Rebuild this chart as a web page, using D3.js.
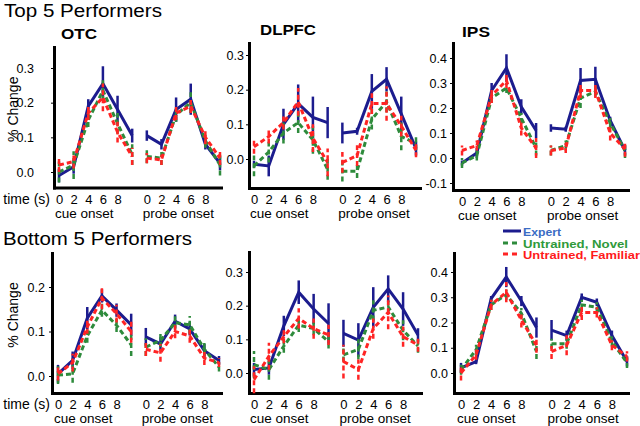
<!DOCTYPE html>
<html><head><meta charset="utf-8">
<script src="https://cdn.jsdelivr.net/npm/d3@7"></script>
<style>
html,body{margin:0;padding:0;background:#fff;}
text{font-family:"Liberation Sans",Arial,sans-serif;}
</style></head>
<body>
<svg id="chart" width="640" height="426"></svg>
<script>
// ---------------- DATA ----------------
const timesCue = [0, 2, 4, 6, 8, 10];
const probeOffset = 12;
const xTickValues = [0, 2, 4, 6, 8];
const xTickLabels = ["0", "2", "4", "6", "8"];
const seriesNames = ["Expert", "Untrained, Novel", "Untrained, Familiar"];
const regionNames = ["OTC", "DLPFC", "IPS"];
const rowTitles = ["Top 5 Performers", "Bottom 5 Performers"];

// values: 6 cue-locked points then 6 probe-locked points
const topOTC_expert   = [-0.01, 0.015, 0.19, 0.255, 0.18, 0.105, 0.105, 0.08, 0.18, 0.21, 0.08, 0.025];
const topOTC_expertE  = [0.02, 0.02, 0.02, 0.05, 0.04, 0.02, 0.015, 0.015, 0.035, 0.045, 0.015, 0.02];
const topOTC_novel    = [0.0, 0.02, 0.15, 0.235, 0.14, 0.05, 0.045, 0.04, 0.165, 0.2, 0.09, 0.02];
const topOTC_novelE   = [0.03, 0.04, 0.02, 0.03, 0.03, 0.03, 0.02, 0.02, 0.02, 0.03, 0.02, 0.03];
const topOTC_famil    = [0.02, 0.03, 0.17, 0.215, 0.115, 0.045, 0.04, 0.035, 0.17, 0.19, 0.1, 0.04];
const topOTC_familE   = [0.02, 0.02, 0.02, 0.04, 0.03, 0.025, 0.015, 0.015, 0.02, 0.02, 0.02, 0.02];

const topDLPFC_expert  = [-0.015, -0.02, 0.1, 0.16, 0.12, 0.105, 0.075, 0.08, 0.195, 0.23, 0.13, 0.03];
const topDLPFC_expertE = [0.01, 0.03, 0.045, 0.055, 0.06, 0.045, 0.03, 0.01, 0.05, 0.035, 0.05, 0.02];
const topDLPFC_novel   = [-0.02, 0.02, 0.075, 0.105, 0.055, -0.03, -0.035, -0.035, 0.115, 0.165, 0.065, 0.045];
const topDLPFC_novelE  = [0.03, 0.03, 0.03, 0.03, 0.04, 0.03, 0.03, 0.02, 0.03, 0.03, 0.04, 0.02];
const topDLPFC_famil   = [0.035, 0.065, 0.105, 0.165, 0.06, -0.01, -0.01, 0.01, 0.16, 0.16, 0.095, 0.025];
const topDLPFC_familE  = [0.02, 0.02, 0.02, 0.04, 0.04, 0.04, 0.03, 0.03, 0.03, 0.05, 0.03, 0.02];

const topIPS_expert  = [-0.02, 0.02, 0.27, 0.36, 0.205, 0.11, 0.12, 0.115, 0.31, 0.315, 0.15, 0.03];
const topIPS_expertE = [0.01, 0.02, 0.03, 0.055, 0.03, 0.03, 0.015, 0.01, 0.05, 0.05, 0.015, 0.02];
const topIPS_novel   = [-0.02, 0.01, 0.24, 0.28, 0.16, 0.04, 0.03, 0.05, 0.24, 0.265, 0.14, 0.03];
const topIPS_novelE  = [0.02, 0.02, 0.02, 0.02, 0.02, 0.03, 0.02, 0.02, 0.04, 0.02, 0.02, 0.03];
const topIPS_famil   = [0.03, 0.05, 0.25, 0.31, 0.12, 0.04, 0.03, 0.04, 0.27, 0.27, 0.1, 0.035];
const topIPS_familE  = [0.02, 0.02, 0.03, 0.03, 0.03, 0.04, 0.02, 0.02, 0.03, 0.03, 0.03, 0.03];

const botOTC_expert  = [0.005, 0.035, 0.13, 0.18, 0.148, 0.115, 0.088, 0.072, 0.123, 0.106, 0.057, 0.035];
const botOTC_expertE = [0.02, 0.02, 0.025, 0.015, 0.015, 0.025, 0.02, 0.015, 0.015, 0.015, 0.015, 0.01];
const botOTC_novel   = [0.002, 0.005, 0.09, 0.148, 0.114, 0.07, 0.065, 0.08, 0.12, 0.115, 0.06, 0.02];
const botOTC_novelE  = [0.02, 0.02, 0.015, 0.015, 0.015, 0.025, 0.02, 0.015, 0.015, 0.02, 0.015, 0.01];
const botOTC_famil   = [0.005, 0.03, 0.11, 0.175, 0.14, 0.1, 0.06, 0.052, 0.1, 0.09, 0.04, 0.03];
const botOTC_familE  = [0.015, 0.02, 0.015, 0.025, 0.02, 0.025, 0.015, 0.02, 0.015, 0.015, 0.015, 0.01];

const botDLPFC_expert  = [0.01, 0.015, 0.14, 0.24, 0.19, 0.147, 0.118, 0.098, 0.195, 0.25, 0.19, 0.113];
const botDLPFC_expertE = [0.02, 0.02, 0.03, 0.035, 0.045, 0.06, 0.04, 0.05, 0.06, 0.04, 0.05, 0.02];
const botDLPFC_novel   = [0.025, 0.01, 0.08, 0.142, 0.132, 0.093, 0.054, 0.07, 0.186, 0.196, 0.127, 0.08];
const botDLPFC_novelE  = [0.04, 0.03, 0.02, 0.02, 0.02, 0.02, 0.02, 0.03, 0.03, 0.02, 0.03, 0.02];
const botDLPFC_famil   = [-0.02, 0.05, 0.108, 0.162, 0.132, 0.113, 0.034, 0.01, 0.132, 0.18, 0.108, 0.083];
const botDLPFC_familE  = [0.04, 0.04, 0.02, 0.03, 0.03, 0.03, 0.05, 0.03, 0.03, 0.05, 0.03, 0.02];

const botIPS_expert  = [0.02, 0.045, 0.295, 0.38, 0.285, 0.18, 0.17, 0.148, 0.3, 0.28, 0.148, 0.046];
const botIPS_expertE = [0.02, 0.01, 0.01, 0.04, 0.02, 0.04, 0.04, 0.02, 0.015, 0.015, 0.02, 0.02];
const botIPS_novel   = [0.013, 0.092, 0.27, 0.31, 0.237, 0.085, 0.116, 0.116, 0.27, 0.26, 0.125, 0.04];
const botIPS_novelE  = [0.02, 0.02, 0.02, 0.02, 0.02, 0.03, 0.02, 0.02, 0.02, 0.02, 0.02, 0.02];
const botIPS_famil   = [0.0, 0.072, 0.27, 0.32, 0.21, 0.11, 0.085, 0.11, 0.24, 0.24, 0.11, 0.066];
const botIPS_familE  = [0.03, 0.02, 0.02, 0.04, 0.03, 0.03, 0.03, 0.04, 0.03, 0.02, 0.02, 0.02];

const yTicksTopOTC = [0, 0.1, 0.2, 0.3];
const yTicksTopDLPFC = [0, 0.1, 0.2, 0.3];
const yTicksTopIPS = [-0.1, 0, 0.1, 0.2, 0.3, 0.4];
const yTicksBotOTC = [0, 0.1, 0.2];
const yTicksBotDLPFC = [0, 0.1, 0.2, 0.3];
const yTicksBotIPS = [0, 0.1, 0.2, 0.3, 0.4];

// ---------------- STYLE / LAYOUT ----------------
const lineColors = ["#1c1c8e", "#2e8b3c", "#ff2424"];
const legendTextColors = ["#3b6cc4", "#2e9a3a", "#ff1a1a"];
const dashes = [null, "5,3", "5,3"];

const panels = [
  {title: regionNames[0], tx: 61, ty: 39, tw: 36, ticks: yTicksTopOTC, ylab: true, tlab: true,
   axisX: 54, top: 47, bottom: 187.5, xEnd: 221, t0: 59, t22: 220, y0: 172, refVal: 0.3, refPx: 68, pad: 17,
   data: [[topOTC_expert, topOTC_expertE], [topOTC_novel, topOTC_novelE], [topOTC_famil, topOTC_familE]]},
  {title: regionNames[1], tx: 260, ty: 35, tw: 56, ticks: yTicksTopDLPFC,
   axisX: 249, top: 43, bottom: 188, xEnd: 420, t0: 254, t22: 416, y0: 159, refVal: 0.3, refPx: 55, pad: 2,
   data: [[topDLPFC_expert, topDLPFC_expertE], [topDLPFC_novel, topDLPFC_novelE], [topDLPFC_famil, topDLPFC_familE]]},
  {title: regionNames[2], tx: 462, ty: 37, tw: 28, ticks: yTicksTopIPS,
   axisX: 453, top: 43, bottom: 190, xEnd: 628, t0: 462, t22: 625, y0: 158, refVal: 0.4, refPx: 58, pad: 3,
   data: [[topIPS_expert, topIPS_expertE], [topIPS_novel, topIPS_novelE], [topIPS_famil, topIPS_familE]]},
  {ticks: yTicksBotOTC, ylab: true, tlab: true,
   axisX: 52, top: 253, bottom: 393, xEnd: 221, t0: 58, t22: 219, y0: 376, refVal: 0.2, refPx: 287, pad: 4,
   data: [[botOTC_expert, botOTC_expertE], [botOTC_novel, botOTC_novelE], [botOTC_famil, botOTC_familE]]},
  {ticks: yTicksBotDLPFC,
   axisX: 249, top: 252, bottom: 393, xEnd: 421, t0: 254, t22: 418, y0: 373, refVal: 0.3, refPx: 272, pad: 3,
   data: [[botDLPFC_expert, botDLPFC_expertE], [botDLPFC_novel, botDLPFC_novelE], [botDLPFC_famil, botDLPFC_familE]]},
  {ticks: yTicksBotIPS,
   axisX: 454, top: 253, bottom: 393, xEnd: 628, t0: 461, t22: 627, y0: 373, refVal: 0.4, refPx: 272, pad: 3,
   data: [[botIPS_expert, botIPS_expertE], [botIPS_novel, botIPS_novelE], [botIPS_famil, botIPS_familE]]}
];

const svg = d3.select("#chart");

// row titles
svg.append("text").attr("x", 4).attr("y", 16.5).attr("font-size", 18)
  .attr("textLength", 158).attr("lengthAdjust", "spacingAndGlyphs").text(rowTitles[0]);
svg.append("text").attr("x", 3).attr("y", 245).attr("font-size", 18)
  .attr("textLength", 189).attr("lengthAdjust", "spacingAndGlyphs").text(rowTitles[1]);

const allTimes = timesCue.concat(timesCue.map(t => t + probeOffset));

panels.forEach(p => {
  const x = d3.scaleLinear().domain([0, 22]).range([p.t0, p.t22]);
  const y = d3.scaleLinear().domain([0, p.refVal]).range([p.y0, p.refPx]);
  const g = svg.append("g");

  if (p.title) {
    g.append("text").attr("x", p.tx).attr("y", p.ty).attr("font-size", 14).attr("font-weight", "bold")
      .attr("textLength", p.tw).attr("lengthAdjust", "spacingAndGlyphs").text(p.title);
  }

  // y axis
  const yA = d3.scaleLinear().domain([y.invert(p.bottom), y.invert(p.top)]).range([p.bottom, p.top]);
  const ya = g.append("g").attr("transform", `translate(${p.axisX},0)`)
    .call(d3.axisLeft(yA).tickValues(p.ticks).tickSize(3).tickSizeOuter(0).tickPadding(p.pad)
      .tickFormat(d => d.toFixed(1)));
  ya.select(".domain").attr("stroke-width", 3).attr("stroke-linecap", "square");
  ya.selectAll(".tick line").attr("stroke-width", 1);
  ya.selectAll(".tick text").attr("font-size", 12.5).attr("font-family", "Liberation Sans, Arial, sans-serif").attr("fill", "#000");

  // x axis
  const xA = d3.scaleLinear().domain([x.invert(p.axisX), x.invert(p.xEnd)]).range([p.axisX, p.xEnd]);
  const xTicksAll = xTickValues.concat(xTickValues.map(t => t + probeOffset));
  const xa = g.append("g").attr("transform", `translate(0,${p.bottom})`)
    .call(d3.axisBottom(xA).tickValues(xTicksAll).tickSize(0).tickSizeOuter(0).tickPadding(7)
      .tickFormat(d => xTickLabels[xTickValues.indexOf(d >= probeOffset ? d - probeOffset : d)]));
  xa.select(".domain").attr("stroke-width", 3).attr("stroke-linecap", "square");
  xa.selectAll(".tick text").attr("font-size", 13).attr("font-family", "Liberation Sans, Arial, sans-serif").attr("fill", "#000");

  g.append("text").attr("x", x(0) - 4).attr("y", p.bottom + 30).attr("font-size", 13.5).text("cue onset");
  g.append("text").attr("x", x(probeOffset) - 4).attr("y", p.bottom + 30).attr("font-size", 13.5).text("probe onset");

  if (p.tlab) {
    g.append("text").attr("x", 50).attr("y", p.bottom + 16).attr("text-anchor", "end").attr("font-size", 14).text("time (s)");
  }
  if (p.ylab) {
    const cy = (p.top + p.bottom) / 2 - 8;
    g.append("text").attr("transform", `translate(18,${cy}) rotate(-90)`).attr("text-anchor", "middle")
      .attr("font-size", 14).text("% Change");
  }

  const line = d3.line().x(d => x(d.t)).y(d => y(d.v));
  p.data.forEach((s, si) => {
    const pts = allTimes.map((t, i) => ({t: t, v: s[0][i], e: s[1][i]}));
    const segs = [pts.slice(0, 6), pts.slice(6)];
    const sg = g.append("g").attr("stroke", lineColors[si]).attr("fill", "none").attr("stroke-width", 3);
    if (dashes[si]) sg.attr("stroke-dasharray", dashes[si]);
    segs.forEach(seg => sg.append("path").attr("d", line(seg)));
    sg.selectAll("line.err").data(pts).enter().append("line").attr("class", "err")
      .attr("x1", d => x(d.t)).attr("x2", d => x(d.t))
      .attr("y1", d => y(d.v - d.e)).attr("y2", d => y(d.v + d.e))
      .attr("stroke-width", 2.5);
  });
});

// legend
const leg = svg.append("g");
const legY = [231, 243, 254];
const legW = [38, 105, 117];
seriesNames.forEach((n, i) => {
  leg.append("line").attr("x1", 503).attr("x2", 521).attr("y1", legY[i]).attr("y2", legY[i])
    .attr("stroke", lineColors[i]).attr("stroke-width", 3)
    .attr("stroke-dasharray", dashes[i] ? "5,4" : null);
  leg.append("text").attr("x", 523).attr("y", legY[i] + 4.5).attr("font-size", 11).attr("font-weight", "bold")
    .attr("fill", legendTextColors[i]).attr("textLength", legW[i]).attr("lengthAdjust", "spacingAndGlyphs").text(n);
});
</script>
</body></html>
